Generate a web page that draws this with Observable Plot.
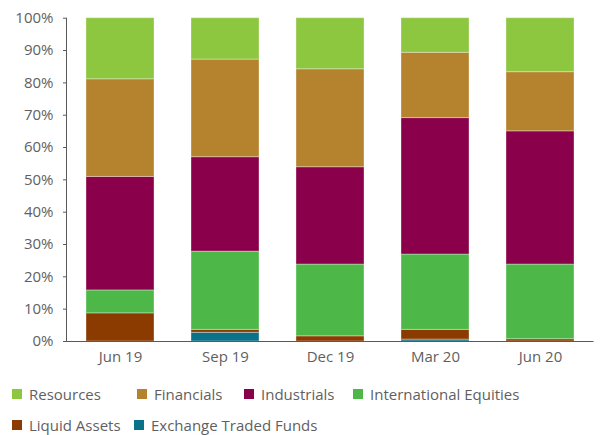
<!DOCTYPE html>
<html>
<head>
<meta charset="utf-8">
<script src="https://cdn.jsdelivr.net/npm/d3@7"></script>
<script src="https://cdn.jsdelivr.net/npm/@observablehq/plot@0.6"></script>
<style>
  html, body { margin: 0; padding: 0; background: #fff; }
  body { width: 607px; height: 435px; position: relative; overflow: hidden;
         font-family: "Open Sans", sans-serif; color: #5f5f5f; }
  #legend { position: absolute; left: 0; top: 0; width: 607px; height: 435px; pointer-events: none; }
  .item { position: absolute; display: flex; align-items: center; font-size: 15px; font-weight: 400; white-space: nowrap; line-height: 20px; }
  .sw { width: 10px; height: 10px; margin-right: 7px; flex: none; }
</style>
</head>
<body>
<div id="chart"></div>
<div id="legend"></div>
<script>
const periods = ["Jun 19", "Sep 19", "Dec 19", "Mar 20", "Jun 20"];
// stacking order, bottom to top
const seriesNames = ["Exchange Traded Funds", "Liquid Assets", "International Equities", "Industrials", "Financials", "Resources"];
const etf        = [0.0, 2.7, 0.0, 0.6, 0.0];
const liquid     = [8.7, 0.9, 1.6, 3.0, 0.7];
const intl       = [7.1, 24.2, 22.2, 23.3, 23.1];
const industrials= [35.1, 29.2, 30.1, 42.2, 41.2];
const financials = [30.2, 30.2, 30.3, 20.2, 18.3];
const resources  = [18.9, 12.8, 15.8, 10.7, 16.7];
const yTicks = [0, 10, 20, 30, 40, 50, 60, 70, 80, 90, 100];
const legendOrder = ["Resources", "Financials", "Industrials", "International Equities", "Liquid Assets", "Exchange Traded Funds"];

const colors = {
  "Resources": "#8dc63f",
  "Financials": "#b5822e",
  "Industrials": "#8a004a",
  "International Equities": "#4db848",
  "Liquid Assets": "#8b3b00",
  "Exchange Traded Funds": "#0b7389"
};

const seriesValues = {
  "Exchange Traded Funds": etf,
  "Liquid Assets": liquid,
  "International Equities": intl,
  "Industrials": industrials,
  "Financials": financials,
  "Resources": resources
};

const rows = [];
for (const s of seriesNames) {
  periods.forEach((p, i) => rows.push({period: p, series: s, value: seriesValues[s][i]}));
}

const chart = Plot.plot({
  width: 607,
  height: 370,
  marginLeft: 66,
  marginRight: 13.5,
  marginTop: 17.7,
  marginBottom: 29,
  style: {fontFamily: "'Open Sans', sans-serif", fontSize: "15px", color: "#5f5f5f", background: "#fff"},
  x: {domain: periods, paddingInner: 0.357, paddingOuter: 0.175, label: null},
  y: {domain: [0, 100], label: null},
  color: {domain: seriesNames, range: seriesNames.map(s => colors[s])},
  marks: [
    Plot.barY(rows, Plot.stackY({order: seriesNames}, {
      x: "period", y: "value", fill: "series",
      stroke: "#ffffff", strokeOpacity: 0.35, strokeWidth: 1
    })),
    Plot.axisY({ticks: yTicks, tickFormat: d => d + "%", tickSize: 3, tickPadding: 10,
      stroke: "#595959", fill: "#5f5f5f", label: null}),
    Plot.axisX({tickSize: 0, tickPadding: 10, fill: "#5f5f5f", label: null}),
    Plot.frame({anchor: "left", stroke: "#595959"}),
    Plot.ruleY([0], {stroke: "#595959"})
  ]
});
document.getElementById("chart").appendChild(chart);

// legend (HTML, below the plot)
const legendX = [12, 137, 244, 353, 12, 134];
const legendY = [384, 384, 384, 384, 415, 415];
const leg = document.getElementById("legend");
legendOrder.forEach((name, i) => {
  const it = document.createElement("div");
  it.className = "item";
  it.style.left = legendX[i] + "px";
  it.style.top = legendY[i] + "px";
  const sw = document.createElement("span");
  sw.className = "sw";
  sw.style.background = colors[name];
  const t = document.createElement("span");
  t.textContent = name;
  it.appendChild(sw);
  it.appendChild(t);
  leg.appendChild(it);
});
</script>
</body>
</html>
